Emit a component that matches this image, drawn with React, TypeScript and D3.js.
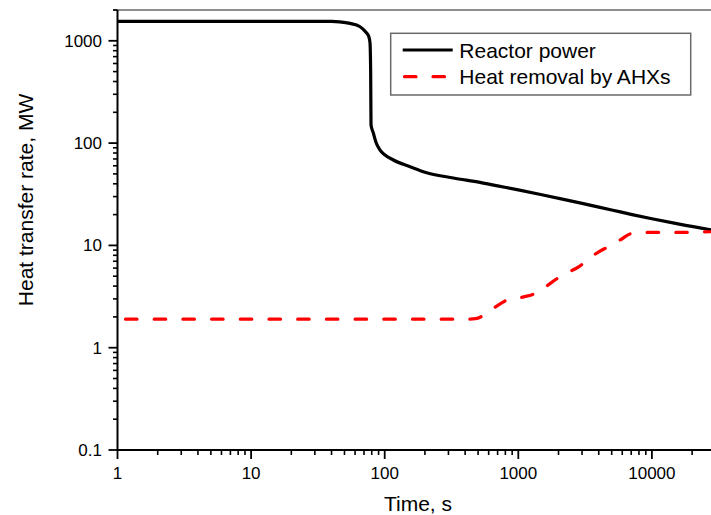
import React from "react";
import * as d3 from "d3";

const powerTime = [1, 10, 30, 40, 46, 55, 65, 72.4, 76, 77.6, 78.5, 79, 82, 86, 92, 100, 116, 155, 206, 326, 517, 700, 1000, 1500, 2270, 3500, 5000, 7110, 10000, 15000, 26900, 32000];
const powerValue = [1550, 1550, 1550, 1545, 1530, 1480, 1380, 1210, 1100, 960, 500, 150, 127, 102, 86, 77, 68.4, 58.8, 51.4, 45.6, 41.3, 38.2, 34.9, 31.3, 27.9, 24.6, 22.2, 20.0, 18.2, 16.4, 14.3, 13.8];

const ahxTime = [1, 400, 478, 560, 680, 807, 1076, 1353, 1800, 2143, 2850, 3296, 4030, 4790, 5850, 6950, 9000, 16900, 26900, 32000];
const ahxValue = [1.9, 1.9, 1.92, 2.1, 2.52, 2.89, 3.12, 3.41, 4.4, 5.16, 6.2, 7.24, 8.7, 9.78, 11.4, 13.0, 13.4, 13.4, 13.6, 13.6];

const xTickValues = [1, 10, 100, 1000, 10000];
const xTickLabels = ["1", "10", "100", "1000", "10000"];
const yTickValues = [0.1, 1, 10, 100, 1000];
const yTickLabels = ["0.1", "1", "10", "100", "1000"];

const seriesNames = ["Reactor power", "Heat removal by AHXs"];

const W = 711;
const H = 515;
const FONT = "Arial, 'Liberation Sans', sans-serif";

export default function App() {
  const x = d3.scaleLog().domain([1, 30000]).range([117.5, 117.5 + Math.log10(30000) * 133.6]);
  const y = d3.scaleLog().domain([0.1, 2000]).range([450, 10]);

  const line = d3
    .line<[number, number]>()
    .x((d) => x(d[0]))
    .y((d) => y(d[1]))
    .curve(d3.curveMonotoneX);

  const powerPts = powerTime.map((t, i) => [t, powerValue[i]] as [number, number]);
  const ahxPts = ahxTime.map((t, i) => [t, ahxValue[i]] as [number, number]);

  const xMinor: number[] = [];
  for (let e = 0; e <= 4; e++) for (let k = 2; k <= 9; k++) {
    const v = k * Math.pow(10, e);
    if (v <= 30000) xMinor.push(v);
  }
  const yMinor: number[] = [];
  for (let e = -1; e <= 3; e++) for (let k = 2; k <= 9; k++) {
    const v = k * Math.pow(10, e);
    if (v <= 2000) yMinor.push(v);
  }

  const x0 = x(1);
  const yBase = y(0.1);
  const yTop = y(2000);

  return (
    <svg width={W} height={H} style={{ position: "absolute", left: 0, top: 0, background: "#fff" }} fontFamily={FONT}>
      <defs>
        <clipPath id="plotclip">
          <rect x={x0} y={0} width={W - x0} height={yBase} />
        </clipPath>
      </defs>
      {/* top frame line */}
      <line x1={x0 - 4} x2={W} y1={yTop} y2={yTop} stroke="#6a6a6a" strokeWidth={1.5} />

      {/* curves */}
      <g clipPath="url(#plotclip)">
        <path d={line(powerPts) || ""} fill="none" stroke="#000" strokeWidth={3.2} />
        <path d={line(ahxPts) || ""} fill="none" stroke="#ff0000" strokeWidth={3.2} strokeDasharray="11.5,17.2" strokeDashoffset={-8} strokeLinecap="round" />
      </g>

      {/* x axis */}
      <line x1={x0} x2={W} y1={yBase} y2={yBase} stroke="#000" strokeWidth={2} />
      {xMinor.map((v) => (
        <line key={"xm" + v} x1={x(v)} x2={x(v)} y1={yBase} y2={yBase + 5} stroke="#000" strokeWidth={1.6} />
      ))}
      {xTickValues.map((v, i) => (
        <g key={"xt" + v}>
          <line x1={x(v)} x2={x(v)} y1={yBase} y2={yBase + 9} stroke="#000" strokeWidth={1.8} />
          <text x={x(v)} y={479} textAnchor="middle" fontSize={17} fill="#000">{xTickLabels[i]}</text>
        </g>
      ))}

      {/* y axis */}
      <line x1={x0} x2={x0} y1={yTop} y2={yBase} stroke="#000" strokeWidth={2} />
      {yMinor.map((v) => (
        <line key={"ym" + v} x1={x0 - 4.5} x2={x0} y1={y(v)} y2={y(v)} stroke="#000" strokeWidth={1.6} />
      ))}
      {yTickValues.map((v, i) => (
        <g key={"yt" + v}>
          <line x1={x0 - 9} x2={x0} y1={y(v)} y2={y(v)} stroke="#000" strokeWidth={1.8} />
          <text x={102} y={y(v)} dy="0.35em" textAnchor="end" fontSize={17} fill="#000">{yTickLabels[i]}</text>
        </g>
      ))}

      {/* axis titles */}
      <text x={418} y={511} textAnchor="middle" fontSize={21} fill="#000">Time, s</text>
      <text transform="translate(33,200) rotate(-90)" textAnchor="middle" fontSize={21} fill="#000">Heat transfer rate, MW</text>

      {/* legend */}
      <rect x={390.7} y={33.3} width={300} height={61.7} fill="#fff" stroke="#6a6a6a" strokeWidth={1.5} />
      <line x1={402.7} x2={452.7} y1={50} y2={50} stroke="#000" strokeWidth={3.2} />
      <line x1={403} x2={452.7} y1={76.7} y2={76.7} stroke="#ff0000" strokeWidth={3.2} strokeDasharray="11.5,17" strokeLinecap="round" transform="translate(1.5,0)" />
      <text x={459.3} y={57.5} fontSize={21} fill="#000">{seriesNames[0]}</text>
      <text x={459.3} y={84} fontSize={21} fill="#000">{seriesNames[1]}</text>
    </svg>
  );
}
